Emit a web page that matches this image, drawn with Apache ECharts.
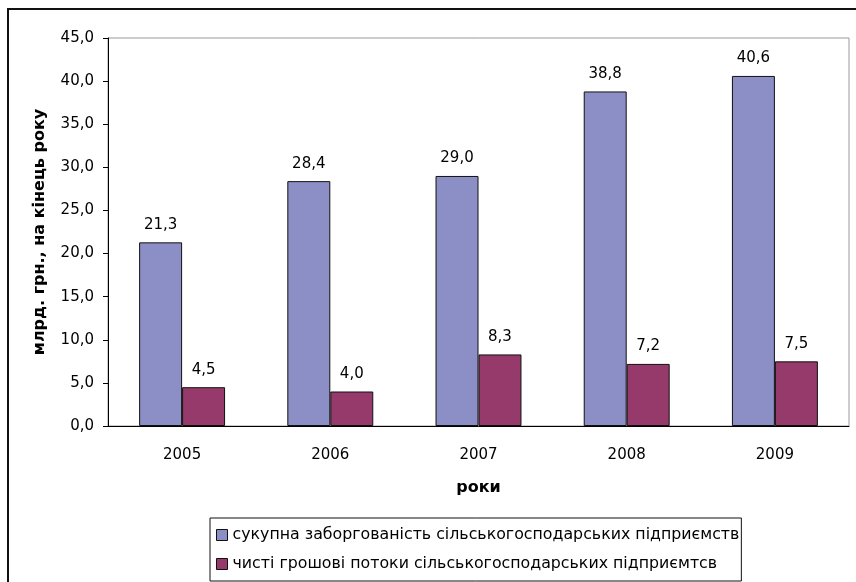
<!DOCTYPE html>
<html><head><meta charset="utf-8">
<script src="https://cdn.jsdelivr.net/npm/echarts@6/dist/echarts.min.js"></script>
<style>html,body{margin:0;padding:0;background:#fff}#c{width:856px;height:582px}</style>
</head><body><div id="c"></div>
<script>
var categories = ['2005','2006','2007','2008','2009'];
var debtValues = [21.3, 28.4, 29.0, 38.8, 40.6];
var cashValues = [4.5, 4.0, 8.3, 7.2, 7.5];
var seriesNames = ['сукупна заборгованість сільськогосподарських підприємств','чисті грошові потоки сільськогосподарських підприємтсв'];
var yAxisTitle = 'млрд. грн., на кінець року';
var xAxisTitle = 'роки';

var fmt = function(v){ return Number(v).toFixed(1).replace('.', ','); };
var font = 'DejaVu Sans, Arial, sans-serif';
var chart = echarts.init(document.getElementById('c'));
chart.setOption({
  animation: false,
  backgroundColor: '#fff',
  textStyle: {fontFamily: font},
  graphic: [{type:'rect', shape:{x:8,y:9,width:900,height:620}, style:{fill:'none', stroke:'#111', lineWidth:2}, z:-1}],
  grid: {left:108, right:7, top:38, bottom:156, show:true, borderColor:'#999', borderWidth:1, backgroundColor:'transparent'},
  legend: {
    orient:'vertical', left:210, top:518,
    backgroundColor:'#fff', borderColor:'#111', borderWidth:1,
    padding:[8,2,8,6], itemGap:11, itemWidth:11, itemHeight:11, icon:'rect',
    textStyle:{fontSize:15.8, fontFamily:font, color:'#000', lineHeight:18},
    itemStyle:{borderColor:'#111', borderWidth:1}
  },
  xAxis: {
    type:'category', data:categories,
    name:xAxisTitle, nameLocation:'middle', nameGap:54,
    nameTextStyle:{fontSize:16, fontWeight:'bold', color:'#000', fontFamily:font},
    axisLine:{lineStyle:{color:'#000', width:1}},
    axisTick:{length:5, lineStyle:{color:'#000'}},
    axisLabel:{fontSize:15, color:'#000', margin:22, fontFamily:font},
    splitLine:{show:false}
  },
  yAxis: {
    type:'value', min:0, max:45, interval:5,
    name:yAxisTitle, nameLocation:'middle', nameGap:60, nameRotate:90,
    nameTextStyle:{fontSize:16, fontWeight:'bold', color:'#000', fontFamily:font},
    axisLine:{show:true, lineStyle:{color:'#000', width:1}},
    axisTick:{show:true, length:5, lineStyle:{color:'#000'}},
    axisLabel:{fontSize:15, color:'#000', margin:14, fontFamily:font, formatter:fmt},
    splitLine:{show:false}
  },
  series: [
    {name:seriesNames[0], type:'bar', data:debtValues, barGap:'0%', barCategoryGap:'42%',
     itemStyle:{color:'#8C8FC6', borderColor:'#111', borderWidth:1},
     label:{show:true, position:'top', distance:10, fontSize:15, color:'#000', fontFamily:font, formatter:function(p){return fmt(p.value);}}},
    {name:seriesNames[1], type:'bar', data:cashValues,
     itemStyle:{color:'#953A6B', borderColor:'#111', borderWidth:1},
     label:{show:true, position:'top', distance:10, fontSize:15, color:'#000', fontFamily:font, formatter:function(p){return fmt(p.value);}}}
  ]
});
</script></body></html>
